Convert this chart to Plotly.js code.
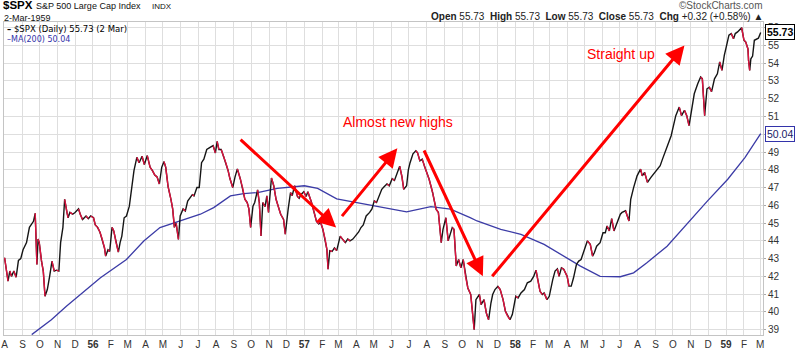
<!DOCTYPE html>
<html>
<head>
<meta charset="utf-8">
<script src="https://cdn.plot.ly/plotly-3.0.1.min.js"></script>
<style>html,body{margin:0;padding:0;background:#fff;}#chart{width:800px;height:352px;}</style>
</head>
<body>
<div id="chart"></div>
<script>
// ---- Data ----
const priceDates = [
'1955-08-01','1955-08-07','1955-08-10','1955-08-13','1955-08-17','1955-08-21','1955-08-25','1955-08-29',
'1955-09-02','1955-09-08','1955-09-13','1955-09-17','1955-09-20','1955-09-23','1955-09-26','1955-09-28','1955-09-30',
'1955-10-04','1955-10-07','1955-10-10','1955-10-14','1955-10-18','1955-10-22','1955-10-26','1955-10-30',
'1955-11-03','1955-11-06','1955-11-10','1955-11-13','1955-11-17','1955-11-19','1955-11-22','1955-11-27',
'1955-12-01','1955-12-07','1955-12-10','1955-12-14','1955-12-20','1955-12-24','1955-12-28',
'1956-01-02','1956-01-05','1956-01-09','1956-01-13','1956-01-17','1956-01-21','1956-01-23','1956-01-27','1956-01-30',
'1956-02-03','1956-02-06','1956-02-10','1956-02-14','1956-02-17','1956-02-20','1956-02-24','1956-02-28',
'1956-03-04','1956-03-08','1956-03-12','1956-03-17','1956-03-21','1956-03-26','1956-03-30',
'1956-04-04','1956-04-09','1956-04-13','1956-04-17','1956-04-21','1956-04-25','1956-04-29',
'1956-05-03','1956-05-06','1956-05-10','1956-05-15','1956-05-18','1956-05-21','1956-05-24','1956-05-28','1956-05-31',
'1956-06-05','1956-06-09','1956-06-13','1956-06-17','1956-06-21','1956-06-24','1956-06-29',
'1956-07-03','1956-07-07','1956-07-11','1956-07-16','1956-07-21','1956-07-27','1956-07-31',
'1956-08-03','1956-08-06','1956-08-10','1956-08-14','1956-08-18','1956-08-22','1956-08-25','1956-08-30',
'1956-09-03','1956-09-07','1956-09-12','1956-09-16','1956-09-20','1956-09-24','1956-09-27','1956-09-30',
'1956-10-04','1956-10-07','1956-10-12','1956-10-15','1956-10-18','1956-10-21','1956-10-25','1956-10-28','1956-10-31',
'1956-11-05','1956-11-09','1956-11-13','1956-11-18','1956-11-21','1956-11-26','1956-11-29',
'1956-12-04','1956-12-08','1956-12-11','1956-12-15','1956-12-20','1956-12-23','1956-12-26','1956-12-31',
'1957-01-04','1957-01-07','1957-01-13','1957-01-18','1957-01-22','1957-01-26','1957-01-29',
'1957-02-02','1957-02-06','1957-02-09','1957-02-11','1957-02-14','1957-02-18','1957-02-22','1957-02-26',
'1957-03-04','1957-03-08','1957-03-13','1957-03-17','1957-03-21','1957-03-26','1957-03-30',
'1957-04-05','1957-04-09','1957-04-13','1957-04-18','1957-04-24','1957-04-28',
'1957-05-02','1957-05-06','1957-05-11','1957-05-15','1957-05-19','1957-05-24','1957-05-28',
'1957-06-02','1957-06-06','1957-06-11','1957-06-15','1957-06-19','1957-06-22','1957-06-27','1957-06-30',
'1957-07-03','1957-07-08','1957-07-13','1957-07-16','1957-07-20','1957-07-24','1957-07-28',
'1957-08-05','1957-08-11','1957-08-17','1957-08-21','1957-08-26','1957-08-29',
'1957-09-03','1957-09-07','1957-09-14','1957-09-17','1957-09-21','1957-09-25','1957-09-29',
'1957-10-03','1957-10-07','1957-10-11','1957-10-16','1957-10-22','1957-10-25','1957-10-31',
'1957-11-03','1957-11-08','1957-11-12','1957-11-16','1957-11-20','1957-11-23','1957-11-27',
'1957-12-02','1957-12-06','1957-12-11','1957-12-15','1957-12-19','1957-12-23','1957-12-27',
'1958-01-02','1958-01-06','1958-01-11','1958-01-17','1958-01-22','1958-01-28',
'1958-02-02','1958-02-06','1958-02-09','1958-02-13','1958-02-17','1958-02-20','1958-02-25',
'1958-03-01','1958-03-07','1958-03-11','1958-03-15','1958-03-18','1958-03-22','1958-03-26',
'1958-04-01','1958-04-04','1958-04-08','1958-04-12','1958-04-17','1958-04-21','1958-04-25','1958-04-29',
'1958-05-02','1958-05-06','1958-05-11','1958-05-15','1958-05-18','1958-05-22','1958-05-28',
'1958-06-02','1958-06-06','1958-06-09','1958-06-13','1958-06-17','1958-06-21','1958-06-26',
'1958-07-02','1958-07-05','1958-07-11','1958-07-17','1958-07-20','1958-07-25','1958-07-31',
'1958-08-06','1958-08-09','1958-08-13','1958-08-18','1958-08-24','1958-08-30',
'1958-09-04','1958-09-09','1958-09-13','1958-09-19','1958-09-23','1958-09-28',
'1958-10-02','1958-10-06','1958-10-12','1958-10-16','1958-10-21','1958-10-25','1958-10-29',
'1958-11-03','1958-11-07','1958-11-13','1958-11-18','1958-11-21','1958-11-25','1958-11-29',
'1958-12-03','1958-12-07','1958-12-12','1958-12-17','1958-12-21','1958-12-25','1958-12-29',
'1959-01-02','1959-01-06','1959-01-10','1959-01-14','1959-01-17','1959-01-21','1959-01-28',
'1959-02-01','1959-02-04','1959-02-08','1959-02-09','1959-02-11','1959-02-13','1959-02-16','1959-02-19','1959-02-23','1959-02-26',
'1959-03-02'
];
const priceClose = [
43.05,41.73,42.3,42.0,42.3,41.95,42.9,43.0,
43.5,43.9,44.76,45.0,45.1,45.55,42.67,44.1,43.9,
42.85,42.3,40.88,41.26,42.0,42.85,42.3,42.35,
42.3,43.9,44.76,46.34,45.6,45.3,45.6,45.5,
45.6,45.8,45.5,45.2,45.4,45.25,45.4,
45.3,44.9,44.76,44.5,44.1,43.6,43.14,43.5,43.4,
44.76,44.56,43.9,43.37,43.9,44.27,45.3,45.4,
45.95,47.1,47.95,48.7,48.4,48.76,48.3,
48.8,48.14,47.95,47.7,47.6,47.2,48.14,
48.46,48.14,47.07,46.34,45.8,44.76,45.0,44.08,45.4,
45.8,45.68,46.24,46.4,46.6,46.53,47.0,
47.0,48.4,48.6,49.14,49.25,49.36,48.95,
49.6,49.14,49.14,48.76,48.4,47.95,47.52,47.0,
47.6,48.05,47.5,47.0,46.34,46.16,45.8,44.76,
45.95,46.16,46.87,46.16,44.27,46.16,45.93,46.53,45.6,
47.54,47.1,46.34,45.8,45.5,45.2,44.37,
45.8,46.72,46.55,47.1,46.5,46.4,46.6,46.77,
46.5,46.77,46.2,45.6,45.1,44.95,45.05,
44.65,44.08,43.52,42.4,43.45,43.4,43.6,43.45,
44.27,44.1,43.9,44.1,44.0,44.1,44.27,
44.5,44.75,44.9,45.4,45.6,45.8,
46.25,46.16,46.6,46.9,47.05,47.2,47.1,
47.5,47.4,47.8,48.2,47.6,46.9,47.1,48.0,
48.4,48.9,49.07,48.95,48.5,48.6,48.2,
47.47,46.72,45.78,45.6,43.9,44.65,
45.3,44.0,44.75,44.65,42.58,42.95,42.48,
42.95,42.0,41.35,40.98,39.0,40.69,40.98,
40.41,40.69,39.94,39.56,40.5,40.98,41.26,
41.44,41.26,40.69,40.04,39.75,39.56,39.85,
40.88,40.79,41.07,41.26,41.64,41.73,
42.0,42.35,41.82,41.16,40.98,41.07,40.69,
40.88,41.82,42.3,42.42,42.0,42.48,42.4,
42.0,41.45,41.45,41.92,42.67,42.86,42.95,43.33,
43.7,44.0,43.8,43.14,43.33,43.7,43.9,
44.46,44.46,44.84,44.56,45.25,44.56,45.0,
45.5,45.6,45.69,45.12,46.34,47.0,47.66,
48.04,47.66,47.85,47.29,47.57,47.8,
48.04,48.23,48.6,49.17,49.56,49.92,
50.49,51.05,51.53,51.05,51.35,51.05,50.49,
51.62,52.28,52.84,53.22,53.12,51.05,52.56,
52.65,52.4,53.12,53.4,54.07,53.6,54.44,
55.0,55.58,55.67,55.38,55.67,55.76,56.0,
55.3,55.2,54.8,54.16,53.6,54.25,54.4,55.29,55.38,55.41,
55.73
];
const maDates = [
'1955-09-17','1955-09-28','1955-10-21','1955-11-16','1955-12-21','1956-01-14','1956-02-28','1956-03-29',
'1956-04-26','1956-05-25','1956-07-05','1956-07-28','1956-08-26','1956-09-18','1956-10-12','1956-11-03',
'1956-11-15','1957-01-01','1957-01-24','1957-02-26','1957-04-01','1957-05-06','1957-06-27','1957-08-08',
'1957-09-11','1957-10-15','1957-10-27','1957-12-07','1958-01-11','1958-02-20','1958-03-26','1958-04-24',
'1958-05-28','1958-07-02','1958-07-25','1958-08-17','1958-09-21','1958-11-01','1958-11-30','1959-01-04',
'1959-02-03','1959-03-02'
];
const maValues = [
38.72,39.0,39.56,40.32,41.26,41.92,42.95,43.99,
44.75,45.06,45.5,45.87,46.53,46.66,46.72,46.87,
46.95,47.1,46.95,46.36,46.16,45.93,45.63,45.93,
45.78,45.31,45.12,44.65,44.37,43.8,43.14,42.58,
42.0,41.98,42.2,42.77,43.7,45.2,46.25,47.47,
48.7,50.04
];
const monthTicks = [
'1955-08-01','1955-09-01','1955-10-01','1955-11-01','1955-12-01',
'1956-01-01','1956-02-01','1956-03-01','1956-04-01','1956-05-01','1956-06-01','1956-07-01','1956-08-01','1956-09-01','1956-10-01','1956-11-01','1956-12-01',
'1957-01-01','1957-02-01','1957-03-01','1957-04-01','1957-05-01','1957-06-01','1957-07-01','1957-08-01','1957-09-01','1957-10-01','1957-11-01','1957-12-01',
'1958-01-01','1958-02-01','1958-03-01','1958-04-01','1958-05-01','1958-06-01','1958-07-01','1958-08-01','1958-09-01','1958-10-01','1958-11-01','1958-12-01',
'1959-01-01','1959-02-01','1959-03-01'
];
const monthLabels = [
'A','S','O','N','D',
'<b>56</b>','F','M','A','M','J','J','A','S','O','N','D',
'<b>57</b>','F','M','A','M','J','J','A','S','O','N','D',
'<b>58</b>','F','M','A','M','J','J','A','S','O','N','D',
'<b>59</b>','F','M'
];
const yTicks = [39,40,41,42,43,44,45,46,47,48,49,50,51,52,53,54,55,56];
// the "50" label is hidden behind the MA value tag in the reference
const yTickText = ['39','40','41','42','43','44','45','46','47','48','49','','51','52','53','54','55','56'];
const lastClose = 55.73;
const lastMA = 50.04;

// ---- Build down-segment (red) trace from the data ----
const redX = [], redY = [];
for (let i = 1; i < priceClose.length; i++) {
  if (priceClose[i] < priceClose[i-1]) {
    redX.push(priceDates[i-1], priceDates[i], null);
    redY.push(priceClose[i-1], priceClose[i], null);
  }
}

const traces = [
  {x: maDates, y: maValues, type: 'scatter', mode: 'lines',
   line: {color: '#3b3ba6', width: 1.3}, hoverinfo: 'skip'},
  {x: priceDates, y: priceClose, type: 'scatter', mode: 'lines',
   line: {color: '#151515', width: 1.4}, hoverinfo: 'skip'},
  {x: redX, y: redY, type: 'scatter', mode: 'lines', connectgaps: false,
   line: {color: '#e0123f', width: 1.4}, hoverinfo: 'skip'}
];

const RED = '#ff0000';
const FONT = 'Arial, Liberation Sans, sans-serif';
function arrow(x, y, ax, ay) {
  return {xref: 'x', yref: 'y', axref: 'x', ayref: 'y', x: x, y: y, ax: ax, ay: ay,
    text: '', showarrow: true, arrowhead: 2, arrowsize: 1.25, arrowwidth: 3, arrowcolor: RED, standoff: 0};
}
function ptxt(text, x, y, opts) {
  return Object.assign({xref: 'paper', yref: 'paper', x: x, y: y, text: text, showarrow: false,
    xanchor: 'left', yanchor: 'middle', borderpad: 0,
    font: {family: FONT, size: 10, color: '#000'}}, opts || {});
}

const annotations = [
  arrow('1957-02-25', 44.75, '1956-09-10', 49.77),
  arrow('1957-06-11', 49.21, '1957-03-05', 45.31),
  arrow('1957-11-06', 42.01, '1957-07-26', 49.17),
  arrow('1958-10-21', 55.0, '1957-11-20', 41.92),
  {xref: 'paper', yref: 'paper', x: (398 - 4) / 759, y: (335 - 121.7) / 313, text: 'Almost new highs',
   showarrow: false, xanchor: 'center', yanchor: 'middle', font: {family: FONT, size: 14, color: RED}},
  {xref: 'paper', yref: 'paper', x: (621 - 4) / 759, y: (335 - 54.3) / 313, text: 'Straight up',
   showarrow: false, xanchor: 'center', yanchor: 'middle', font: {family: FONT, size: 14, color: RED}},
  // header
  ptxt('<b>$SPX</b>', (2 - 4) / 759, (335 - 5) / 313, {font: {family: FONT, size: 11.5, color: '#000'}}),
  ptxt('S&P 500 Large Cap Index', (35 - 4) / 759, (335 - 6) / 313, {font: {family: FONT, size: 9, color: '#111'}}),
  ptxt('INDX', (151 - 4) / 759, (335 - 6) / 313, {font: {family: FONT, size: 8, color: '#111'}}),
  ptxt('2-Mar-1959', (3 - 4) / 759, (335 - 17.5) / 313, {font: {family: FONT, size: 9, color: '#111'}}),
  ptxt('©StockCharts.com', (764 - 4) / 759, (335 - 5.5) / 313, {xanchor: 'right', font: {family: FONT, size: 10, color: '#555'}}),
  ptxt('<b>Open</b> 55.73  <b>High</b> 55.73  <b>Low</b> 55.73  <b>Close</b> 55.73  <b>Chg</b> +0.32 (+0.58%) ▲',
       (764 - 4) / 759, (335 - 16.5) / 313, {xanchor: 'right', font: {family: FONT, size: 10, color: '#222'}}),
  // legend
  ptxt('<b>–</b> $SPX (Daily) 55.73 (2 Mar)', (6 - 4) / 759, (335 - 29) / 313, {font: {family: 'DejaVu Sans, Verdana, sans-serif', size: 8.5, color: '#000'}}),
  ptxt('–MA(200) 50.04', (6 - 4) / 759, (335 - 39) / 313, {font: {family: 'DejaVu Sans, Verdana, sans-serif', size: 8, color: '#3333aa'}}),
  // price tags
  {xref: 'paper', yref: 'y', x: 1, y: lastClose, xanchor: 'left', yanchor: 'middle', xshift: 2,
   text: '<b>' + lastClose.toFixed(2) + '</b>', showarrow: false, bgcolor: '#fff', bordercolor: '#000',
   borderwidth: 1, borderpad: 1, font: {family: FONT, size: 10.5, color: '#000'}},
  {xref: 'paper', yref: 'y', x: 1, y: lastMA, xanchor: 'left', yanchor: 'middle', xshift: 2,
   text: lastMA.toFixed(2), showarrow: false, bgcolor: '#fff', bordercolor: '#3333aa',
   borderwidth: 1, borderpad: 1, font: {family: FONT, size: 10.5, color: '#1a1a66'}}
];

const layout = {
  width: 800, height: 352,
  margin: {l: 4, r: 37, t: 22, b: 17, pad: 0},
  paper_bgcolor: '#fff', plot_bgcolor: '#fff',
  showlegend: false, hovermode: false,
  xaxis: {type: 'date', range: ['1955-07-31', '1959-03-06'],
    tickmode: 'array', tickvals: monthTicks, ticktext: monthLabels,
    showgrid: true, gridcolor: '#dedede', gridwidth: 1, ticks: '',
    tickfont: {family: FONT, size: 10, color: '#333'},
    showline: true, linecolor: '#c4c4c4', mirror: true, zeroline: false},
  yaxis: {side: 'right', range: [38.7, 56.32], tickmode: 'array', tickvals: yTicks, ticktext: yTickText,
    showgrid: true, gridcolor: '#dedede', gridwidth: 1, ticks: 'outside', ticklen: 2, tickcolor: '#aaa',
    tickfont: {family: FONT, size: 10, color: '#333'},
    showline: true, linecolor: '#c4c4c4', mirror: true, zeroline: false},
  annotations: annotations
};

Plotly.newPlot('chart', traces, layout, {staticPlot: true, displayModeBar: false});
</script>
</body>
</html>
